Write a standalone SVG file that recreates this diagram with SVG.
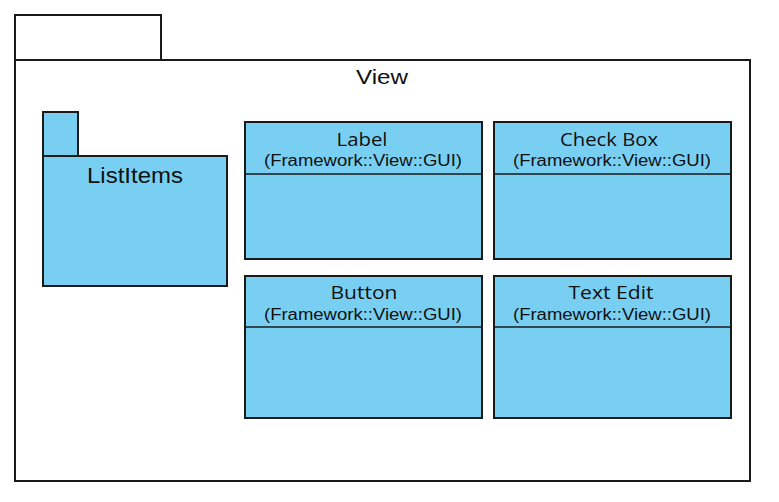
<svg xmlns="http://www.w3.org/2000/svg" width="779" height="502" viewBox="0 0 779 502">
<style>
.pkg{fill:#ffffff;stroke:#1a1a1a;stroke-width:2}
.blue{fill:#79cff2;stroke:#1a1a1a;stroke-width:2}
.div{stroke:#1a1a1a;stroke-width:1.5;fill:none}
.ttl{font-family:"Open Sans","Noto Sans",sans-serif;font-size:19px;fill:#111;text-anchor:middle}
.sub{font-family:"Liberation Sans",Arial,sans-serif;font-size:16px;fill:#111;text-anchor:middle}
.big{font-family:"Liberation Sans",Arial,sans-serif;fill:#111;text-anchor:middle}
</style>
<rect width="779" height="502" fill="#ffffff"/>
<g id="View">
<rect class="pkg" x="15" y="15" width="146" height="45"/>
<rect class="pkg" x="15" y="60" width="735" height="421"/>
<text class="big" x="382" y="84" font-size="20" textLength="52" lengthAdjust="spacingAndGlyphs">View</text>
</g>
<g id="ListItems">
<rect class="blue" x="43" y="112" width="35" height="44"/>
<rect class="blue" x="43" y="156" width="184" height="130"/>
<text class="big" x="135" y="183" font-size="22" textLength="96" lengthAdjust="spacingAndGlyphs">ListItems</text>
</g>
<g id="Label">
<rect class="blue" x="245" y="122" width="237" height="137"/>
<line class="div" x1="245" y1="174" x2="482" y2="174"/>
<text class="ttl" x="362" y="145.5" textLength="51" lengthAdjust="spacingAndGlyphs">Label</text>
<text class="sub" x="363" y="166" textLength="198" lengthAdjust="spacingAndGlyphs">(Framework::View::GUI)</text>
</g>
<g id="CheckBox">
<rect class="blue" x="494" y="122" width="237" height="137"/>
<line class="div" x1="494" y1="174" x2="731" y2="174"/>
<text class="ttl" x="609" y="145.5" textLength="98" lengthAdjust="spacingAndGlyphs">Check Box</text>
<text class="sub" x="612" y="166" textLength="198" lengthAdjust="spacingAndGlyphs">(Framework::View::GUI)</text>
</g>
<g id="Button">
<rect class="blue" x="245" y="276" width="237" height="142"/>
<line class="div" x1="245" y1="327" x2="482" y2="327"/>
<text class="ttl" x="364" y="298.5" textLength="67" lengthAdjust="spacingAndGlyphs">Button</text>
<text class="sub" x="363" y="320" textLength="198" lengthAdjust="spacingAndGlyphs">(Framework::View::GUI)</text>
</g>
<g id="TextEdit">
<rect class="blue" x="494" y="276" width="237" height="142"/>
<line class="div" x1="494" y1="327" x2="731" y2="327"/>
<text class="ttl" x="611" y="298.5" textLength="85" lengthAdjust="spacingAndGlyphs">Text Edit</text>
<text class="sub" x="612" y="320" textLength="198" lengthAdjust="spacingAndGlyphs">(Framework::View::GUI)</text>
</g>
<g id="connectors"></g>
</svg>
